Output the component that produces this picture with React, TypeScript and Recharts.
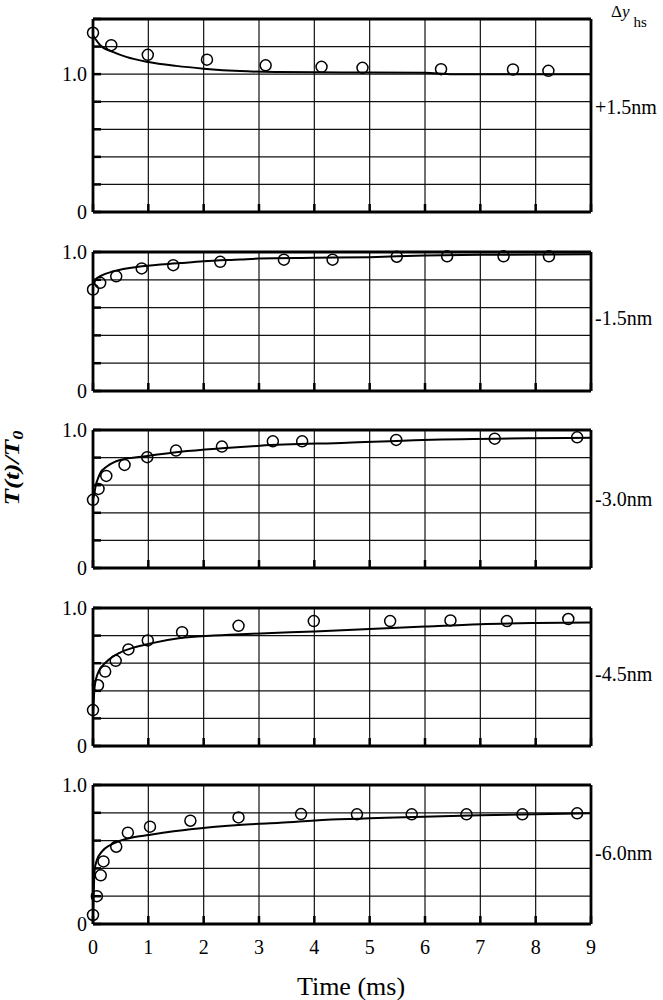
import React from 'react'
import { ComposedChart, Line, Scatter, XAxis, YAxis, CartesianGrid, Label } from 'recharts'

const SERIF = '"Liberation Serif", "Times New Roman", serif'

const TIME_TICKS = [0, 1, 2, 3, 4, 5, 6, 7, 8, 9]
const Y_TICKS_TALL = [0, 0.2, 0.4, 0.6, 0.8, 1.0, 1.2, 1.4]
const Y_TICKS = [0, 0.2, 0.4, 0.6, 0.8, 1.0]
const STEP_LABELS = ['+1.5nm', '-1.5nm', '-3.0nm', '-4.5nm', '-6.0nm']

// measured tension (open circles), time in ms
const obsTime1 = [0, 0.33, 0.99, 2.06, 3.12, 4.13, 4.87, 6.29, 7.59, 8.23]
const obsTension1 = [1.3, 1.21, 1.14, 1.105, 1.064, 1.053, 1.046, 1.036, 1.034, 1.024]
const obsTime2 = [0, 0.13, 0.42, 0.88, 1.45, 2.3, 3.45, 4.33, 5.49, 6.4, 7.42, 8.24]
const obsTension2 = [0.73, 0.778, 0.825, 0.882, 0.905, 0.929, 0.945, 0.945, 0.966, 0.969, 0.969, 0.969]
const obsTime3 = [0, 0.1, 0.24, 0.57, 0.98, 1.5, 2.33, 3.25, 3.78, 5.48, 7.26, 8.75]
const obsTension3 = [0.494, 0.573, 0.667, 0.747, 0.803, 0.851, 0.88, 0.918, 0.918, 0.928, 0.937, 0.947]
const obsTime4 = [0, 0.09, 0.22, 0.41, 0.64, 0.99, 1.61, 2.63, 3.99, 5.37, 6.46, 7.48, 8.59]
const obsTension4 = [0.26, 0.44, 0.539, 0.617, 0.7, 0.765, 0.825, 0.871, 0.905, 0.905, 0.91, 0.905, 0.92]
const obsTime5 = [0, 0.07, 0.14, 0.19, 0.42, 0.63, 1.03, 1.76, 2.63, 3.76, 4.77, 5.76, 6.75, 7.76, 8.75]
const obsTension5 = [0.065, 0.2, 0.35, 0.45, 0.556, 0.657, 0.7, 0.743, 0.767, 0.791, 0.789, 0.789, 0.789, 0.789, 0.796]

// model fit (solid curves)
const fitTime1 = [0, 0.13, 0.37, 0.6, 1.0, 1.5, 2.0, 2.66, 3.36, 4.0, 5.0, 6.0, 6.5, 9.0]
const fitTension1 = [1.28, 1.21, 1.16, 1.125, 1.088, 1.06, 1.04, 1.022, 1.015, 1.013, 1.012, 1.01, 1.0, 1.0]
const fitTime2 = [0, 0.04, 0.15, 0.37, 0.89, 1.58, 2.0, 2.66, 3.0, 4.0, 5.0, 6.0, 7.0, 9.0]
const fitTension2 = [0.76, 0.8, 0.83, 0.861, 0.897, 0.92, 0.933, 0.946, 0.953, 0.958, 0.963, 0.975, 0.98, 0.983]
const fitTime3 = [0, 0.02, 0.05, 0.08, 0.13, 0.25, 0.49, 0.98, 1.58, 2.33, 3.02, 4.59, 5.97, 9.0]
const fitTension3 = [0.5, 0.53, 0.6, 0.638, 0.687, 0.735, 0.783, 0.812, 0.843, 0.868, 0.886, 0.908, 0.928, 0.944]
const fitTime4 = [0, 0.03, 0.1, 0.25, 0.49, 0.73, 1.0, 1.58, 2.18, 3.02, 4.0, 5.0, 6.0, 7.0, 8.0, 9.0]
const fitTension4 = [0.21, 0.43, 0.539, 0.612, 0.677, 0.713, 0.74, 0.782, 0.8, 0.816, 0.83, 0.847, 0.866, 0.883, 0.891, 0.895]
const fitTime5 = [0, 0.03, 0.07, 0.16, 0.31, 0.49, 0.73, 1.0, 1.76, 2.63, 3.38, 4.44, 5.0, 5.97, 7.0, 9.0]
const fitTension5 = [0.03, 0.39, 0.46, 0.52, 0.568, 0.599, 0.624, 0.64, 0.681, 0.712, 0.729, 0.753, 0.76, 0.772, 0.782, 0.796]

const zip = (t: number[], v: number[]) => t.map((x, i) => ({ t: x, v: v[i] }))

const PANELS = [
  { label: STEP_LABELS[0], obs: zip(obsTime1, obsTension1), fit: zip(fitTime1, fitTension1), yTicks: Y_TICKS_TALL },
  { label: STEP_LABELS[1], obs: zip(obsTime2, obsTension2), fit: zip(fitTime2, fitTension2), yTicks: Y_TICKS },
  { label: STEP_LABELS[2], obs: zip(obsTime3, obsTension3), fit: zip(fitTime3, fitTension3), yTicks: Y_TICKS },
  { label: STEP_LABELS[3], obs: zip(obsTime4, obsTension4), fit: zip(fitTime4, fitTension4), yTicks: Y_TICKS },
  { label: STEP_LABELS[4], obs: zip(obsTime5, obsTension5), fit: zip(fitTime5, fitTension5), yTicks: Y_TICKS },
]

// page placement of each plot box
const LAYOUT = [
  { plotTop: 19, plotH: 193, labelDy: -9 },
  { plotTop: 252, plotH: 139, labelDy: -4 },
  { plotTop: 430, plotH: 138, labelDy: 0 },
  { plotTop: 608, plotH: 138, labelDy: -3 },
  { plotTop: 785, plotH: 139, labelDy: -2 },
]

const TOP = 30
const BOTTOM = 16
const AXIS_LINE = { stroke: '#000', strokeWidth: 2.8 }
const TICK_LINE = { stroke: '#000', strokeWidth: 2.5 }

const OpenCircle = (props: any) => (
  <circle cx={props.cx} cy={props.cy} r={5.5} fill="none" stroke="#000" strokeWidth={1.5} />
)

// keeps tick marks (and grid lines) but draws no label
const NoLabel = () => <g />

const yFmt = (v: number) => (v === 0 ? '0' : v === 1 ? '1.0' : '')

function Panel({ idx }: { idx: number }) {
  const p = PANELS[idx]
  const l = LAYOUT[idx]
  const last = idx === PANELS.length - 1
  const xAxisH = last ? 75 : 1
  const height = TOP + l.plotH + xAxisH + BOTTOM
  const yMax = p.yTicks[p.yTicks.length - 1]

  return (
    <div style={{ position: 'absolute', left: 0, top: l.plotTop - TOP, width: 663, height }}>
      <ComposedChart width={663} height={height} margin={{ top: TOP - 1, right: 71, bottom: BOTTOM, left: 0 }}>
        <CartesianGrid xAxisId="b" yAxisId="l" stroke="#111" strokeWidth={1.2} />
        <XAxis
          xAxisId="b"
          dataKey="t"
          type="number"
          domain={[0, 9]}
          ticks={TIME_TICKS}
          interval={0}
          height={xAxisH}
          axisLine={AXIS_LINE}
          tickLine={TICK_LINE}
          tickSize={-8}
          tickMargin={24}
          tick={last ? { fontSize: 20, fill: '#000', fontFamily: SERIF } : NoLabel}
        >
          {last && (
            <Label
              content={(lp: any) => (
                <text x={lp.viewBox.x + lp.viewBox.width / 2 + 9} y={lp.viewBox.y + 71} textAnchor="middle"
                  fontFamily={SERIF} fontSize={26} fill="#000">Time (ms)</text>
              )}
            />
          )}
        </XAxis>
        <XAxis
          xAxisId="t"
          orientation="top"
          type="number"
          domain={[0, 9]}
          ticks={TIME_TICKS}
          interval={0}
          height={1}
          axisLine={AXIS_LINE}
          tickLine={TICK_LINE}
          tickSize={-8}
          tick={NoLabel}
        />
        <YAxis
          yAxisId="l"
          dataKey="v"
          type="number"
          domain={[0, yMax]}
          ticks={p.yTicks}
          interval={0}
          width={93}
          axisLine={AXIS_LINE}
          tickLine={TICK_LINE}
          tickSize={-8}
          tickMargin={14}
          tickFormatter={yFmt}
          tick={{ fontSize: 20, fill: '#000', fontFamily: SERIF }}
        >
          {idx === 2 && (
            <Label
              content={(lp: any) => {
                const cx = 19
                const cy = lp.viewBox.y + 38
                return (
                  <text x={cx} y={cy} transform={`rotate(-90 ${cx} ${cy})`} textAnchor="middle"
                    fontFamily={SERIF} fontSize={22} fontStyle="italic" fontWeight="bold" fill="#000"
                    textLength={75} lengthAdjust="spacingAndGlyphs">
                    T(t)/T<tspan fontSize={15} dy={4}>0</tspan>
                  </text>
                )
              }}
            />
          )}
        </YAxis>
        <YAxis
          yAxisId="r"
          orientation="right"
          type="number"
          domain={[0, yMax]}
          ticks={p.yTicks}
          interval={0}
          width={1}
          axisLine={AXIS_LINE}
          tickLine={TICK_LINE}
          tickSize={-8}
          tick={NoLabel}
        >
          <Label
            content={(lp: any) => (
              <text x={lp.viewBox.x + lp.viewBox.width + 3} y={lp.viewBox.y + lp.viewBox.height / 2 + l.labelDy}
                dominantBaseline="central" fontFamily={SERIF} fontSize={20} fill="#000">{p.label}</text>
            )}
          />
          {idx === 0 && (
            <Label
              content={(lp: any) => (
                <text x={lp.viewBox.x + 20} y={lp.viewBox.y - 2} fontFamily={SERIF} fontSize={17} fill="#000">
                  Δ<tspan fontStyle="italic">y</tspan>
                  <tspan fontSize={15} dx={4} dy={10}>hs</tspan>
                </text>
              )}
            />
          )}
        </YAxis>
        <Line
          xAxisId="b"
          yAxisId="l"
          data={p.fit}
          dataKey="v"
          type="monotone"
          stroke="#000"
          strokeWidth={2}
          dot={false}
          activeDot={false}
          isAnimationActive={false}
        />
        <Scatter
          xAxisId="b"
          yAxisId="l"
          data={p.obs}
          dataKey="v"
          shape={OpenCircle}
          isAnimationActive={false}
        />
      </ComposedChart>
    </div>
  )
}

export default function App() {
  return (
    <div style={{ position: 'absolute', left: 0, top: 0, width: 663, height: 1000, background: '#fff' }}>
      {PANELS.map((_, i) => (
        <Panel key={i} idx={i} />
      ))}
    </div>
  )
}
